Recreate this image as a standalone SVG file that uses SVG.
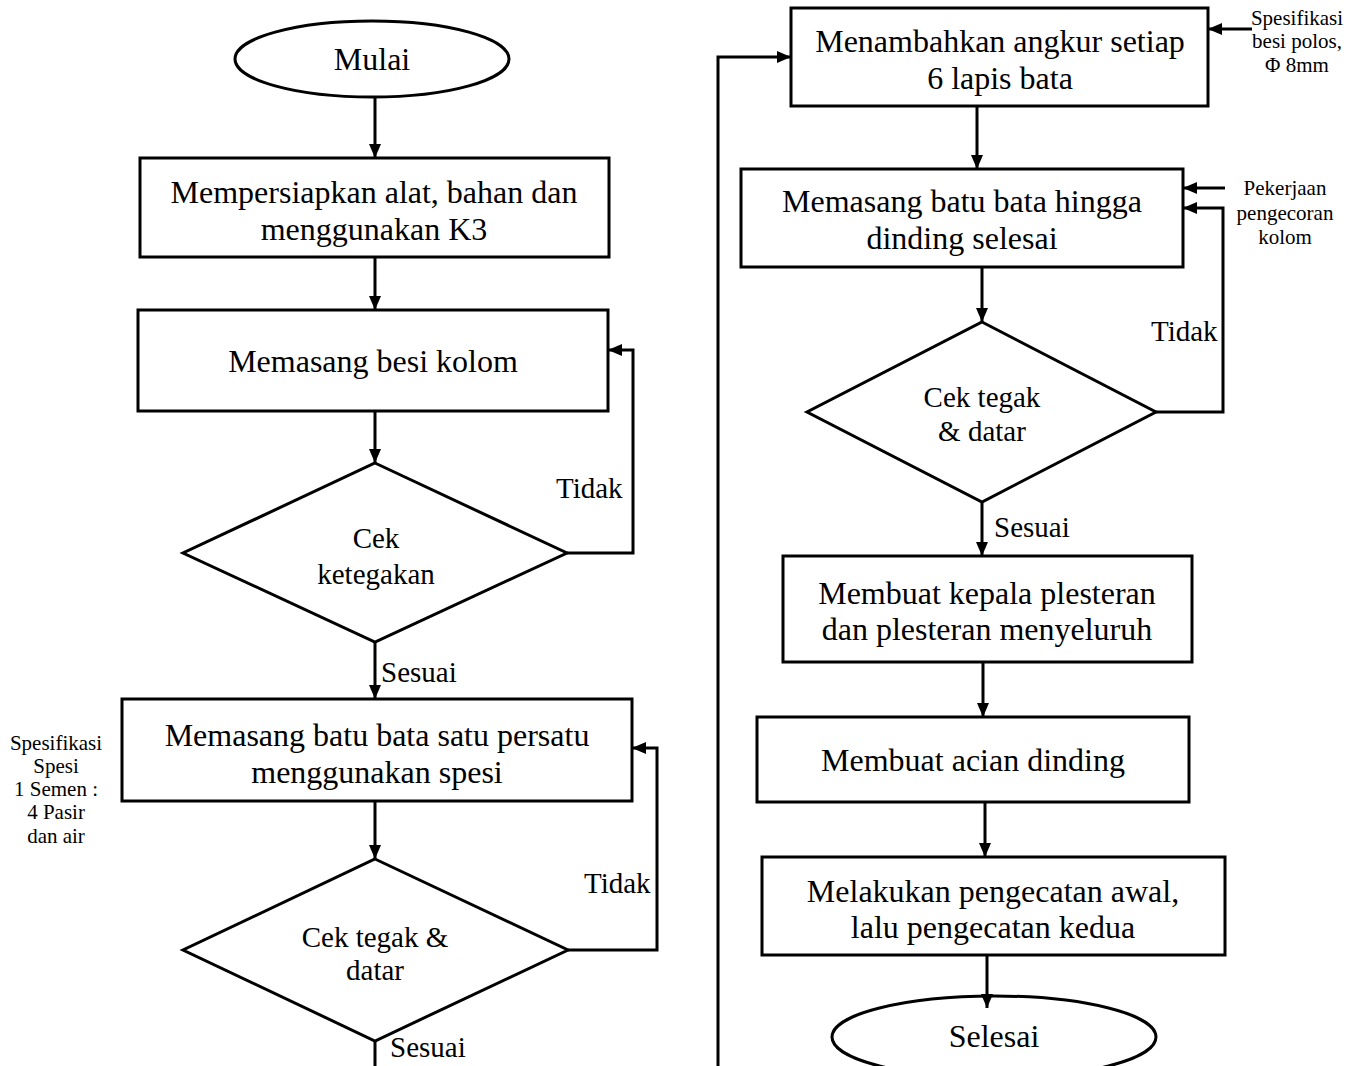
<svg xmlns="http://www.w3.org/2000/svg" width="1362" height="1066" viewBox="0 0 1362 1066">
<defs>
<marker id="ah" markerWidth="14" markerHeight="12" refX="14" refY="6" orient="auto" markerUnits="userSpaceOnUse" viewBox="0 0 14 12"><path d="M0,0 L14,6 L0,12 z" fill="#000"/></marker>
<style>
.s{fill:#fff;stroke:#000;stroke-width:3}
.c{fill:none;stroke:#000;stroke-width:3}
.a{marker-end:url(#ah)}
.t{font-family:"Liberation Serif","Times New Roman",serif;font-size:32px;fill:#000;text-anchor:middle}
.d{font-family:"Liberation Serif","Times New Roman",serif;font-size:29px;fill:#000;text-anchor:middle}
.l{font-family:"Liberation Serif","Times New Roman",serif;font-size:29px;fill:#000}
.n{font-family:"Liberation Serif","Times New Roman",serif;font-size:21px;fill:#000;text-anchor:middle}
</style>
</defs>
<rect width="1362" height="1066" fill="#fff"/>
<g id="mulai"><ellipse class="s" cx="372" cy="59" rx="137" ry="38"/><text class="t" x="372" y="70">Mulai</text></g>
<g id="persiapan"><rect class="s" x="140" y="158" width="469" height="99"/><text class="t" x="374" y="203">Mempersiapkan alat, bahan dan</text><text class="t" x="374" y="240">menggunakan K3</text></g>
<g id="besi-kolom"><rect class="s" x="138" y="310" width="470" height="101"/><text class="t" x="373" y="372">Memasang besi kolom</text></g>
<g id="cek-ketegakan"><path class="s" d="M375,463 L567,553 L375,642 L183,553 z"/><text class="d" x="376" y="548">Cek</text><text class="d" x="376" y="584">ketegakan</text></g>
<g id="batu-bata"><rect class="s" x="122" y="699" width="510" height="102"/><text class="t" x="377" y="746">Memasang batu bata satu persatu</text><text class="t" x="377" y="783">menggunakan spesi</text></g>
<g id="spesifikasi-spesi"><text class="n" x="56" y="750">Spesifikasi</text><text class="n" x="56" y="773">Spesi</text><text class="n" x="56" y="796">1 Semen :</text><text class="n" x="56" y="819">4 Pasir</text><text class="n" x="56" y="843">dan air</text></g>
<g id="cek-tegak-1"><path class="s" d="M375,859 L568,950 L375,1041 L183,950 z"/><text class="d" x="375" y="947">Cek tegak &amp;</text><text class="d" x="375" y="980">datar</text></g>
<g id="angkur"><rect class="s" x="791" y="8" width="417" height="98"/><text class="t" x="1000" y="52">Menambahkan angkur setiap</text><text class="t" x="1000" y="89">6 lapis bata</text></g>
<g id="spesifikasi-besi"><text class="n" x="1297" y="25">Spesifikasi</text><text class="n" x="1297" y="48">besi polos,</text><text class="n" x="1297" y="72">Φ 8mm</text></g>
<g id="bata-selesai"><rect class="s" x="741" y="169" width="442" height="98"/><text class="t" x="962" y="212">Memasang batu bata hingga</text><text class="t" x="962" y="249">dinding selesai</text></g>
<g id="pekerjaan"><text class="n" x="1285" y="195">Pekerjaan</text><text class="n" x="1285" y="220">pengecoran</text><text class="n" x="1285" y="244">kolom</text></g>
<g id="cek-tegak-2"><path class="s" d="M982,322 L1156,412 L982,502 L807,412 z"/><text class="d" x="982" y="407">Cek tegak</text><text class="d" x="982" y="441">&amp; datar</text></g>
<g id="plesteran"><rect class="s" x="783" y="556" width="409" height="106"/><text class="t" x="987" y="604">Membuat kepala plesteran</text><text class="t" x="987" y="640">dan plesteran menyeluruh</text></g>
<g id="acian"><rect class="s" x="757" y="717" width="432" height="85"/><text class="t" x="973" y="771">Membuat acian dinding</text></g>
<g id="pengecatan"><rect class="s" x="762" y="857" width="463" height="98"/><text class="t" x="993" y="902">Melakukan pengecatan awal,</text><text class="t" x="993" y="938">lalu pengecatan kedua</text></g>
<g id="selesai"><ellipse class="s" cx="994" cy="1037" rx="162" ry="41"/><text class="t" x="994" y="1047">Selesai</text></g>
<g id="connectors">
<path class="c a" d="M375,97 V158"/>
<path class="c a" d="M375,257 V310"/>
<path class="c a" d="M375,411 V463"/>
<path class="c a" d="M567,553 H633 V350 H608"/>
<path class="c a" d="M375,642 V699"/>
<path class="c a" d="M375,801 V859"/>
<path class="c a" d="M568,950 H657 V748 H632"/>
<path class="c" d="M375,1041 V1066"/>
<path class="c a" d="M718,1066 V57 H791"/>
<path class="c a" d="M1252,29 H1208"/>
<path class="c a" d="M977,106 V169"/>
<path class="c a" d="M1225,188 H1183"/>
<path class="c a" d="M1156,412 H1223 V208 H1183"/>
<path class="c a" d="M982,267 V322"/>
<path class="c a" d="M982,502 V556"/>
<path class="c a" d="M983,662 V717"/>
<path class="c a" d="M985,802 V857"/>
<path class="c a" d="M987,955 V1008"/>
<text class="l" x="556" y="498">Tidak</text>
<text class="l" x="381" y="682">Sesuai</text>
<text class="l" x="584" y="893">Tidak</text>
<text class="l" x="390" y="1057">Sesuai</text>
<text class="l" x="1151" y="341">Tidak</text>
<text class="l" x="994" y="537">Sesuai</text>
</g>
</svg>
